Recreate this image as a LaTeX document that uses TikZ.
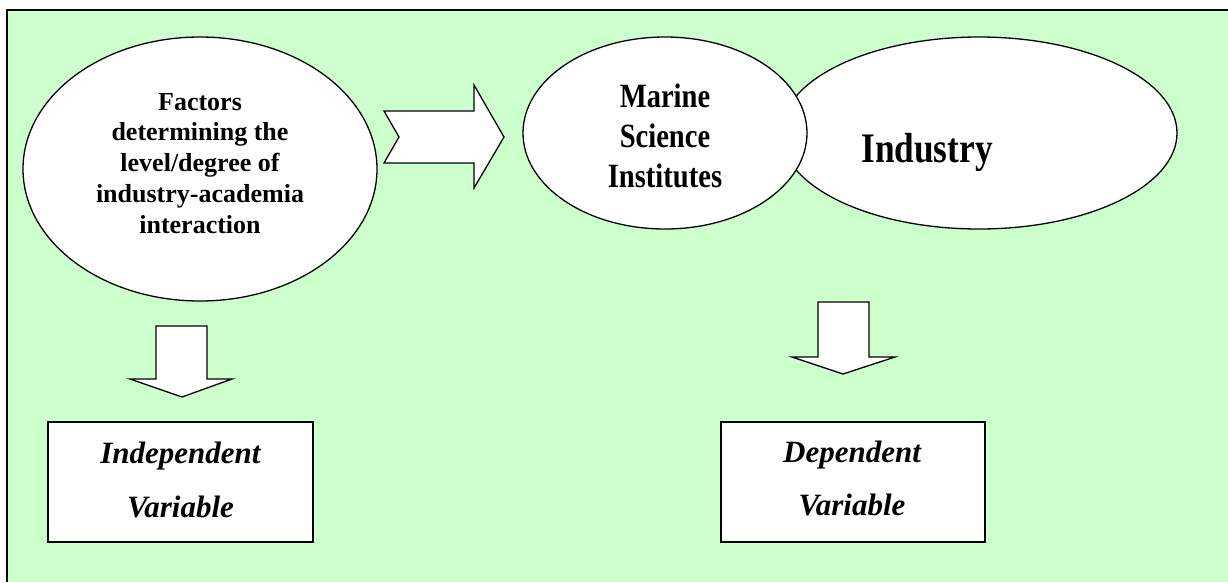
\documentclass[tikz,border=0pt]{standalone}
\usepackage{fontspec}
\setmainfont{Liberation Serif}
\newfontfamily\narrowserif{Liberation Serif}[FakeStretch=0.84]
\usetikzlibrary{shapes.geometric}
\definecolor{panelgreen}{RGB}{204,255,204}
\tikzset{
  outline/.style={draw=black, line width=1.3pt, fill=white},
  oval/.style={outline, ellipse, inner sep=0pt},
  varbox/.style={outline, rectangle, inner sep=0pt},
  blockarrow/.style={outline, line join=miter},
  txt/.style={inner sep=0pt, align=center, font=\bfseries},
}
\begin{document}
\begin{tikzpicture}[x=1pt, y=-1pt]
\useasboundingbox (0,0) rectangle (1228,582);
% panel
\fill[panelgreen] (7,10) rectangle (1228,582);
\draw[line width=2.2pt] (7,582) -- (7,10) -- (1228,10);

% factors oval
\node[oval, minimum width=354pt, minimum height=264pt] (factors) at (200,169) {};
\node[txt, anchor=north, font=\bfseries\fontsize{26}{30.8}\selectfont] (factorsT) at (200,92.8)
  {Factors\\determining the\\level/degree of\\industry-academia\\interaction};

% industry and institutes ovals
\node[oval, minimum width=396pt, minimum height=192pt] (industry) at (979,133) {};
\node[oval, minimum width=284pt, minimum height=192pt] (marine) at (665,133) {};
\node[txt, anchor=north, font=\narrowserif\bfseries\fontsize{34}{40}\selectfont] (marineT) at (665,83.5)
  {Marine\\Science\\Institutes};
\node[txt, anchor=base, font=\narrowserif\bfseries\fontsize{42}{48}\selectfont] (industryT) at (927,162) {Industry};

% variable boxes
\node[varbox, minimum width=265pt, minimum height=120pt] (indep) at (180.5,482) {};
\node[txt, anchor=north, font=\bfseries\itshape\fontsize{31}{54}\selectfont] (indepT) at (180.5,441.3)
  {Independent\\Variable};
\node[varbox, minimum width=264pt, minimum height=120pt] (dep) at (853,482) {};
\node[txt, anchor=north, font=\bfseries\itshape\fontsize{31}{53}\selectfont] (depT) at (852,440.3)
  {Dependent\\Variable};

% block arrows
\draw[blockarrow] (384,111) -- (474,111) -- (474,85) -- (504,137) -- (474,188)
  -- (474,163) -- (384,163) -- (399,137) -- cycle;
\draw[blockarrow] (156,326) -- (207,326) -- (207,379) -- (232,379) -- (182,397)
  -- (130,379) -- (156,379) -- cycle;
\draw[blockarrow] (818,302) -- (869,302) -- (869,357) -- (895,357) -- (843,374)
  -- (792,357) -- (818,357) -- cycle;
\end{tikzpicture}
\end{document}
